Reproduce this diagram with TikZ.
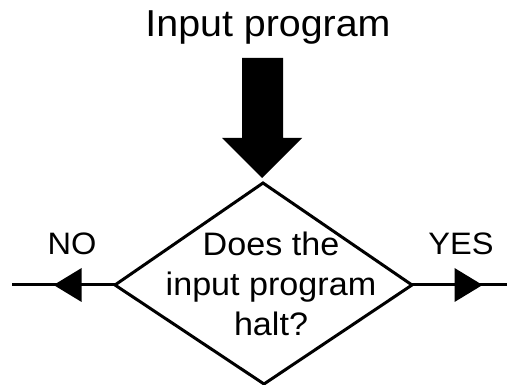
\documentclass[tikz,border=0pt]{standalone}
\usepackage{fontspec}
\setmainfont{Liberation Sans}
\usetikzlibrary{arrows.meta,decorations.markings}
\begin{document}
\begin{tikzpicture}[x=1pt,y=-1pt,
  lbl/.style={inner sep=0pt, xscale=1.05, transform shape},
  edge/.style={line width=3pt},
  tipmark/.style={postaction={decorate},decoration={markings,
     mark=at position #1 with {\fill (-14pt,-17pt) -- (14pt,0pt) -- (-14pt,17pt) -- cycle;}}}]
\useasboundingbox (0,0) rectangle (507,385);
\node[lbl, anchor=base, font=\fontsize{37.5}{40}\selectfont] (title) at (268,37) {Input program};
\fill (242,58) -- (283,58) -- (283,138) -- (302,138) -- (262,178) -- (222,138) -- (242,138) -- cycle;
\coordinate (T) at (263,183);
\coordinate (R) at (412,285);
\coordinate (B) at (264,384);
\coordinate (L) at (115,285);
\coordinate (Lend) at (12,285);
\coordinate (Rend) at (507,285);
\draw[edge, line join=miter] (T) -- (R) -- (B) -- (L) -- cycle;
\node[lbl, align=center, font=\fontsize{32.5}{40}\selectfont] (q) at (271,284) {Does the\\input program\\halt?};
\draw[edge, tipmark=0.46] (L) -- (Lend);
\draw[edge, tipmark=0.595] (R) -- (Rend);
\node[lbl, anchor=base, font=\fontsize{31}{36}\selectfont] (no) at (72,255) {NO};
\node[lbl, anchor=base, font=\fontsize{31}{36}\selectfont] (yes) at (461,255) {YES};
\end{tikzpicture}
\end{document}
